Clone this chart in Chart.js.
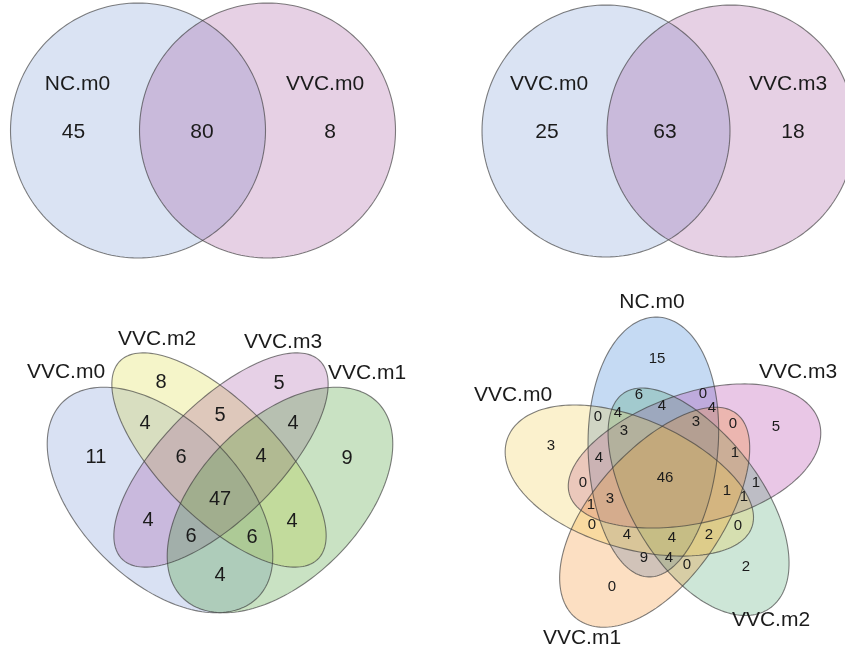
<!DOCTYPE html>
<html>
<head>
<meta charset="utf-8">
<script src="https://cdn.jsdelivr.net/npm/chart.js@4/dist/chart.umd.min.js"></script>
<style>
  html, body { margin: 0; padding: 0; background: #ffffff; }
  canvas { display: block; }
</style>
</head>
<body>
<canvas id="venn" width="845" height="652"></canvas>
<script>
// ---------- values ----------
// two-set diagrams: [only first, both, only second]
const pairASets = ['NC.m0', 'VVC.m0'];
const pairACounts = [45, 80, 8];
const pairBSets = ['VVC.m0', 'VVC.m3'];
const pairBCounts = [25, 63, 18];

// four-set diagram (A = VVC.m0, B = VVC.m2, C = VVC.m3, D = VVC.m1)
const quadSets = ['VVC.m0', 'VVC.m2', 'VVC.m3', 'VVC.m1'];
const quadRegions = ['B', 'BC', 'C', 'AB', 'CD', 'A', 'ABC', 'BCD', 'D', 'ABCD', 'AC', 'BD', 'ACD', 'ABD', 'AD'];
const quadCounts = [8, 5, 5, 4, 4, 11, 6, 4, 9, 47, 4, 4, 6, 6, 4];

// five-set diagram
const quintSets = ['NC.m0', 'VVC.m3', 'VVC.m2', 'VVC.m1', 'VVC.m0'];
const quintCounts = [15, 6, 0, 4, 4, 0, 4, 3, 3, 0, 3, 5, 4, 1, 46, 0, 1, 1, 1, 1, 3, 0, 0, 4, 4, 2, 9, 4, 0, 2, 0];

// ---------- layout (page units, origin top-left) ----------
const pairASetPos = [[77.5, 84], [325, 84]];
const pairACountPos = [[73.5, 132], [202, 132], [330, 132]];
const pairBSetPos = [[549, 84], [788, 84]];
const pairBCountPos = [[547, 132], [665, 132], [793, 132]];

const quadSetPos = [[66, 372], [157, 339], [283, 342], [367, 373]];
const quadCountPos = [[161, 382], [220, 415], [279, 383], [145, 423], [293, 423], [96, 457], [181, 457],
  [261, 456], [347, 458], [220, 499], [148, 520], [292, 521], [191, 536], [252, 537], [220, 575]];

const quintSetPos = [[652, 302], [798, 372], [771, 620], [582, 638], [513, 395]];
const quintCountPos = [[657, 359], [639, 395], [703, 394], [662, 406], [712, 408], [598, 417], [618, 413],
  [624, 431], [696, 422], [733, 424], [551, 446], [776, 427], [599, 458], [735, 453], [665, 478],
  [583, 483], [756, 483], [727, 491], [744, 497], [591, 505], [610, 499], [592, 525], [738, 526],
  [627, 535], [672, 538], [709, 535], [644, 558], [669, 558], [687, 565], [746, 567], [612, 587]];

// ---------- shapes ----------
// each shape: centre, semi-axes, rotation and an "egg" factor that widens the outer end
const deg = Math.PI / 180;
const shapes = [];
// two-set circles
shapes.push({ cx: 138, cy: 130.5, rx: 127.5, ry: 127.5, rot: 0, egg: 0, fill: 'rgba(70,115,195,0.2)' });
shapes.push({ cx: 267.5, cy: 130.5, rx: 128, ry: 127.5, rot: 0, egg: 0, fill: 'rgba(130,20,120,0.2)' });
shapes.push({ cx: 606, cy: 131, rx: 124, ry: 126, rot: 0, egg: 0, fill: 'rgba(70,115,195,0.2)' });
shapes.push({ cx: 731, cy: 131, rx: 124, ry: 126, rot: 0, egg: 0, fill: 'rgba(130,20,120,0.2)' });
// four-set ellipses
shapes.push({ cx: 160, cy: 500, rx: 138, ry: 80, rot: 45 * deg, egg: 0, fill: 'rgba(80,120,200,0.22)' });
shapes.push({ cx: 219, cy: 460, rx: 140, ry: 58, rot: 45 * deg, egg: 0, fill: 'rgba(215,215,40,0.25)' });
shapes.push({ cx: 221, cy: 460, rx: 140, ry: 58, rot: -45 * deg, egg: 0, fill: 'rgba(140,40,140,0.22)' });
shapes.push({ cx: 280, cy: 500, rx: 138, ry: 80, rot: -45 * deg, egg: 0, fill: 'rgba(60,150,40,0.28)' });
// five-set egg shapes, arranged with five-fold symmetry around a common centre
const quintCentre = [666, 481];
const quintOffset = [-13, -34];
const quintFills = ['rgba(40,120,210,0.27)', 'rgba(170,40,160,0.26)', 'rgba(60,160,100,0.26)',
  'rgba(245,130,20,0.26)', 'rgba(240,200,60,0.26)'];
for (let i = 0; i < 5; i++) {
  const t = 72 * i * deg;
  const ox = quintOffset[0] * Math.cos(t) - quintOffset[1] * Math.sin(t);
  const oy = quintOffset[0] * Math.sin(t) + quintOffset[1] * Math.cos(t);
  shapes.push({ cx: quintCentre[0] + ox, cy: quintCentre[1] + oy, rx: 130, ry: 65,
    rot: (-88 + 72 * i) * deg, egg: 0.08, fill: quintFills[i] });
}

// ---------- chart ----------
const toPoints = pos => pos.map(p => ({ x: p[0], y: p[1] }));
const textSet = (pos, texts, size) => ({
  data: toPoints(pos), texts: texts.map(String), fontSize: size,
  pointRadius: 0, pointHoverRadius: 0, showLine: false
});

const vennPlugin = {
  id: 'vennShapes',
  beforeDatasetsDraw(chart) {
    const { ctx, scales: { x, y } } = chart;
    const outline = s => {
      ctx.beginPath();
      const cr = Math.cos(s.rot), sr = Math.sin(s.rot);
      const steps = 180;
      for (let k = 0; k <= steps; k++) {
        const t = (k / steps) * 2 * Math.PI;
        const u = s.rx * Math.cos(t);
        const v = s.ry * Math.sin(t) * (1 + s.egg * Math.cos(t));
        const px = x.getPixelForValue(s.cx + u * cr - v * sr);
        const py = y.getPixelForValue(s.cy + u * sr + v * cr);
        if (k === 0) ctx.moveTo(px, py); else ctx.lineTo(px, py);
      }
      ctx.closePath();
    };
    ctx.save();
    shapes.forEach(s => { outline(s); ctx.fillStyle = s.fill; ctx.fill(); });
    ctx.lineWidth = 1.1;
    ctx.lineJoin = 'round';
    ctx.strokeStyle = 'rgba(60,60,60,0.65)';
    shapes.forEach(s => { outline(s); ctx.stroke(); });
    ctx.restore();
  },
  afterDatasetsDraw(chart) {
    const { ctx } = chart;
    ctx.save();
    ctx.textAlign = 'center';
    ctx.textBaseline = 'middle';
    ctx.fillStyle = '#1b1b1b';
    chart.data.datasets.forEach((ds, di) => {
      const meta = chart.getDatasetMeta(di);
      ctx.font = ds.fontSize + 'px "Liberation Sans", Arial, sans-serif';
      meta.data.forEach((el, i) => ctx.fillText(ds.texts[i], el.x, el.y));
    });
    ctx.restore();
  }
};

new Chart(document.getElementById('venn'), {
  type: 'scatter',
  data: {
    datasets: [
      textSet(pairASetPos, pairASets, 21),
      textSet(pairACountPos, pairACounts, 21),
      textSet(pairBSetPos, pairBSets, 21),
      textSet(pairBCountPos, pairBCounts, 21),
      textSet(quadSetPos, quadSets, 21),
      textSet(quadCountPos, quadCounts, 20),
      textSet(quintSetPos, quintSets, 21),
      textSet(quintCountPos, quintCounts, 15)
    ]
  },
  options: {
    responsive: false,
    animation: false,
    events: [],
    layout: { padding: 0 },
    plugins: { legend: { display: false }, tooltip: { enabled: false } },
    scales: {
      x: { type: 'linear', min: 0, max: 845, display: false },
      y: { type: 'linear', min: 0, max: 652, reverse: true, display: false }
    }
  },
  plugins: [vennPlugin]
});
</script>
</body>
</html>
